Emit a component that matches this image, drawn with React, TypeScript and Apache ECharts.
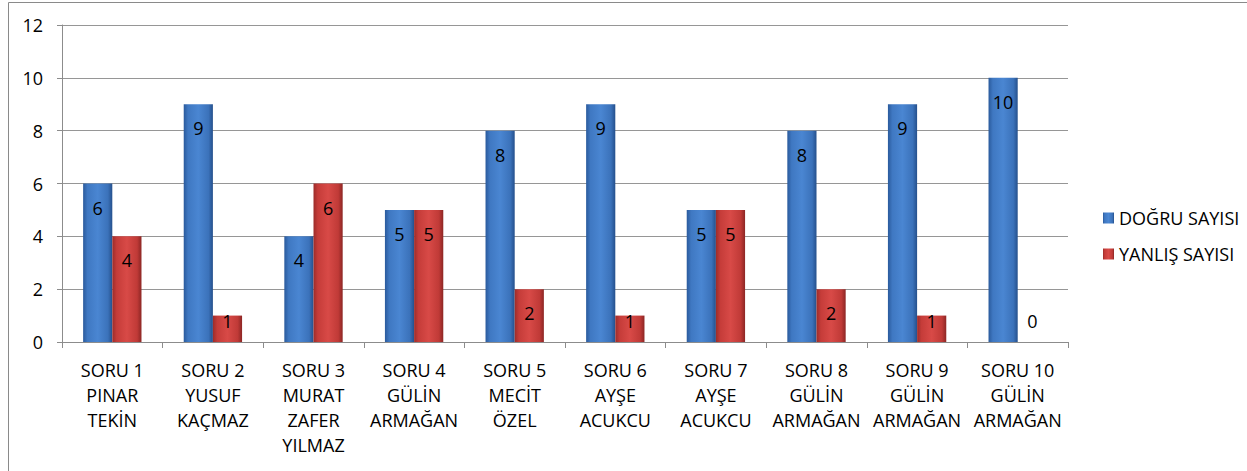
import React, { useEffect, useRef } from "react";
import * as echarts from "echarts";

const categories = [
  "SORU 1\nPINAR\nTEKİN",
  "SORU 2\nYUSUF\nKAÇMAZ",
  "SORU 3\nMURAT\nZAFER\nYILMAZ",
  "SORU 4\nGÜLİN\nARMAĞAN",
  "SORU 5\nMECİT\nÖZEL",
  "SORU 6\nAYŞE\nACUKCU",
  "SORU 7\nAYŞE\nACUKCU",
  "SORU 8\nGÜLİN\nARMAĞAN",
  "SORU 9\nGÜLİN\nARMAĞAN",
  "SORU 10\nGÜLİN\nARMAĞAN",
];
const dogruSayisi = [6, 9, 4, 5, 8, 9, 5, 8, 9, 10];
const yanlisSayisi = [4, 1, 6, 5, 2, 1, 5, 2, 1, 0];
const seriesNames = ["DOĞRU SAYISI", "YANLIŞ SAYISI"];

const FONT = "Open Sans";

const blueGrad = new echarts.graphic.LinearGradient(0, 0, 1, 0, [
  { offset: 0, color: "#2a5a9c" },
  { offset: 0.15, color: "#3f78c2" },
  { offset: 0.5, color: "#4a86d2" },
  { offset: 0.85, color: "#3b72ba" },
  { offset: 1, color: "#25508c" },
]);
const redGrad = new echarts.graphic.LinearGradient(0, 0, 1, 0, [
  { offset: 0, color: "#9c2c2a" },
  { offset: 0.15, color: "#c53c39" },
  { offset: 0.5, color: "#d84a47" },
  { offset: 0.85, color: "#c03a37" },
  { offset: 1, color: "#8c2624" },
]);

function toData(values: number[]) {
  return values.map((v) => ({
    value: v,
    label:
      v <= 1
        ? { position: "insideBottom" as const, distance: 12 }
        : { position: "insideTop" as const, distance: 15 },
  }));
}

export default function App() {
  const ref = useRef<HTMLDivElement>(null);
  useEffect(() => {
    if (!ref.current) return;
    const chart = echarts.init(ref.current, undefined, { renderer: "svg" });
    const labelStyle = {
      show: true,
      color: "#000",
      fontFamily: FONT,
      fontSize: 18,
    };
    chart.setOption({
      animation: false,
      backgroundColor: "#fff",
      textStyle: { fontFamily: FONT },
      graphic: [
        {
          type: "rect",
          shape: { x: 8.5, y: 2.5, width: 1400, height: 600 },
          style: { fill: "none", stroke: "#8a8a8a", lineWidth: 1 },
          silent: true,
          z: -1,
        },
      ],
      grid: { left: 62, right: 179, top: 25, bottom: 129, containLabel: false },
      legend: {
        orient: "vertical",
        left: 1098,
        top: 203,
        itemWidth: 11,
        itemHeight: 11,
        itemGap: 16,
        icon: "rect",
        textStyle: { color: "#000", fontFamily: FONT, fontSize: 18, lineHeight: 20 },
        data: seriesNames,
      },
      xAxis: {
        type: "category",
        data: categories,
        axisLine: { lineStyle: { color: "#8c8c8c", width: 1 } },
        axisTick: { show: true, length: 6, lineStyle: { color: "#8c8c8c" } },
        axisLabel: {
          interval: 0,
          color: "#000",
          fontFamily: FONT,
          fontSize: 18,
          lineHeight: 25,
          margin: 15,
        },
      },
      yAxis: {
        type: "value",
        min: 0,
        max: 12,
        interval: 2,
        axisLine: { show: true, lineStyle: { color: "#8c8c8c", width: 1 } },
        axisTick: { show: true, length: 5, lineStyle: { color: "#8c8c8c" } },
        splitLine: { lineStyle: { color: "#969696", width: 1 } },
        axisLabel: { color: "#000", fontFamily: FONT, fontSize: 18, margin: 19 },
      },
      series: [
        {
          name: seriesNames[0],
          type: "bar",
          data: toData(dogruSayisi),
          barGap: "0%",
          barCategoryGap: "42%",
          itemStyle: { color: blueGrad, borderWidth: 0 },
          label: labelStyle,
        },
        {
          name: seriesNames[1],
          type: "bar",
          data: toData(yanlisSayisi),
          barGap: "0%",
          barCategoryGap: "42%",
          itemStyle: { color: redGrad, borderWidth: 0 },
          label: labelStyle,
        },
      ],
    });
    return () => chart.dispose();
  }, []);
  return (
    <div
      ref={ref}
      style={{ position: "absolute", left: 0, top: 0, width: 1247, height: 471 }}
    />
  );
}
